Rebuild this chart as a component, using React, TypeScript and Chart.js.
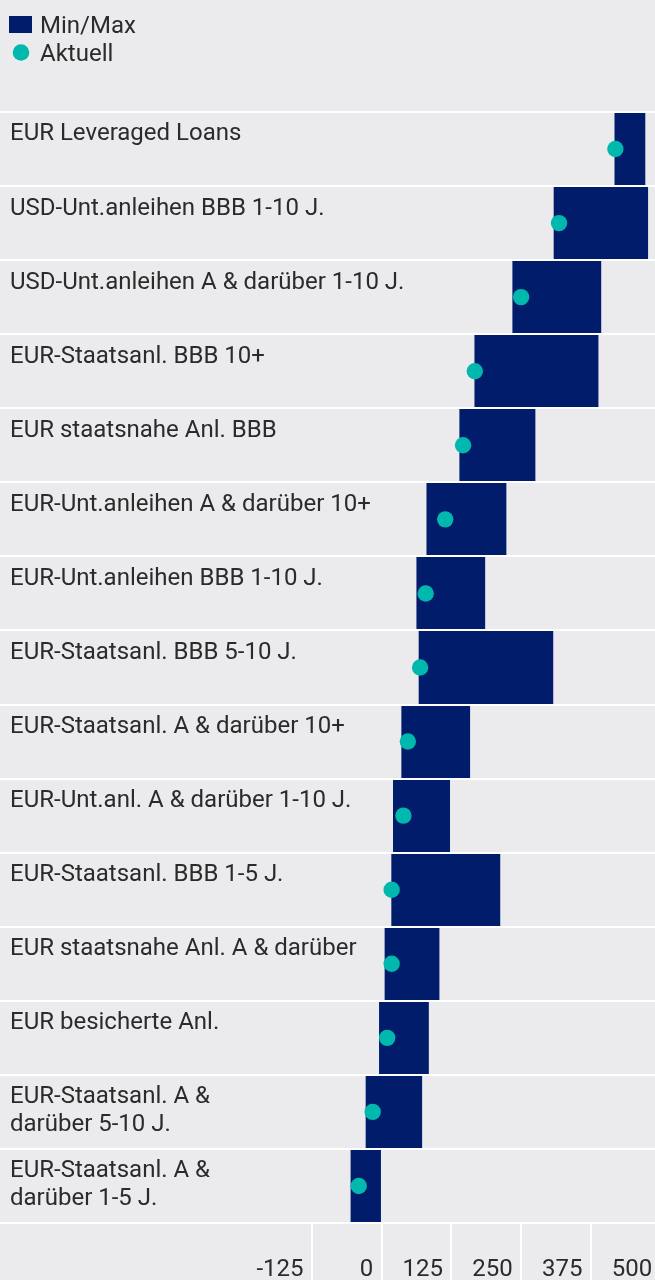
import React, { useEffect, useRef } from 'react';
import { Chart, registerables } from 'chart.js';

Chart.register(...registerables);

const categories = [
  'EUR Leveraged Loans',
  'USD-Unt.anleihen BBB 1-10 J.',
  'USD-Unt.anleihen A & darüber 1-10 J.',
  'EUR-Staatsanl. BBB 10+',
  'EUR staatsnahe Anl. BBB',
  'EUR-Unt.anleihen A & darüber 10+',
  'EUR-Unt.anleihen BBB 1-10 J.',
  'EUR-Staatsanl. BBB 5-10 J.',
  'EUR-Staatsanl. A & darüber 10+',
  'EUR-Unt.anl. A & darüber 1-10 J.',
  'EUR-Staatsanl. BBB 1-5 J.',
  'EUR staatsnahe Anl. A & darüber',
  'EUR besicherte Anl.',
  'EUR-Staatsanl. A &\ndarüber 5-10 J.',
  'EUR-Staatsanl. A &\ndarüber 1-5 J.',
];
const minValues = [418, 309, 235, 167, 140, 81, 63, 67, 36, 21, 18, 6, -4, -28, -55];
const maxValues = [472, 477, 393, 388, 275, 223, 185, 307, 158, 122, 212, 103, 84, 72, 0];
const currentValues = [419, 318, 250, 167, 146, 114, 79, 69, 47, 39, 18, 18, 10, -16, -41];
const tickValues = [-125, 0, 125, 250, 375, 500];
const legendLabels = ['Min/Max', 'Aktuell'];

const NAVY = '#001C6B';
const TEAL = '#00B8AD';
const BG = '#EBEBEE';
const TEXT = '#2B2B2B';
const FONT = 'Roboto, "Noto Sans", sans-serif';

export default function App() {
  const ref = useRef<HTMLCanvasElement>(null);
  useEffect(() => {
    document.body.style.margin = '0';
    const rectImg = document.createElement('canvas');
    rectImg.width = 34;
    rectImg.height = 21;
    const rc = rectImg.getContext('2d')!;
    rc.fillStyle = NAVY;
    rc.fillRect(10, 0, 23, 17);
    const dotImg = document.createElement('canvas');
    dotImg.width = 34;
    dotImg.height = 21;
    const dc = dotImg.getContext('2d')!;
    dc.fillStyle = TEAL;
    dc.beginPath();
    dc.arc(22, 8.5, 8.3, 0, Math.PI * 2);
    dc.fill();

    const chart = new Chart(ref.current!, {
      type: 'bar',
      data: {
        labels: categories,
        datasets: [
          {
            type: 'line',
            label: legendLabels[1],
            data: currentValues,
            showLine: false,
            pointRadius: 8.2,
            pointHoverRadius: 8.2,
            pointBackgroundColor: TEAL,
            pointBorderWidth: 0,
            order: 0,
          } as any,
          {
            type: 'bar',
            label: legendLabels[0],
            data: minValues.map((m, i) => [m, maxValues[i]]),
            backgroundColor: NAVY,
            borderWidth: 0,
            barPercentage: 1,
            categoryPercentage: 1,
            order: 1,
          } as any,
        ],
      },
      options: {
        indexAxis: 'y',
        responsive: false,
        animation: false,
        events: [],
        layout: { autoPadding: false, padding: { top: 10.5, left: 0, right: 0, bottom: 0 } },
        scales: {
          x: {
            type: 'linear',
            position: 'bottom',
            min: -684,
            max: 490,
            afterBuildTicks: (s: any) => {
              s.ticks = tickValues.map((v) => ({ value: v }));
            },
            afterFit: (s: any) => {
              s.height = 57;
              s.paddingLeft = 0;
              s.paddingRight = 0;
            },
            grid: { drawOnChartArea: false, drawTicks: true, tickLength: 57, color: '#FFFFFF', lineWidth: 2 },
            border: { display: false },
            ticks: {
              align: 'end',
              padding: -22,
              autoSkip: false,
              maxRotation: 0,
              minRotation: 0,
              color: TEXT,
              font: { family: FONT, size: 24, lineHeight: 1 },
              callback: (v: any) => String(v) + ' \u200A',
            },
          },
          y: {
            type: 'category',
            position: 'left',
            afterFit: (s: any) => {
              s.width = 0;
            },
            grid: { color: '#FFFFFF', lineWidth: 2, drawTicks: false, z: 1, offset: true },
            border: { display: false },
            ticks: {
              mirror: true,
              padding: 10,
              labelOffset: -0.7,
              color: TEXT,
              font: { family: FONT, size: 24, lineHeight: 27.7 / 24 },
              callback: (_v: any, i: number) => {
                const parts = categories[i].split('\n');
                return parts.length > 1 ? parts : [parts[0], ''];
              },
            },
          },
        },
        plugins: {
          legend: {
            position: 'top',
            align: 'start',
            labels: {
              usePointStyle: true,
              pointStyleWidth: 24,
              padding: 4,
              color: TEXT,
              font: { family: FONT, size: 24 },
              generateLabels: () => [
                {
                  text: legendLabels[0] + ' '.repeat(140),
                  pointStyle: rectImg,
                  fillStyle: NAVY,
                  strokeStyle: NAVY,
                  lineWidth: 0,
                  hidden: false,
                  datasetIndex: 1,
                  fontColor: TEXT,
                } as any,
                {
                  text: legendLabels[1],
                  pointStyle: dotImg,
                  fillStyle: TEAL,
                  strokeStyle: TEAL,
                  lineWidth: 0,
                  hidden: false,
                  datasetIndex: 0,
                  fontColor: TEXT,
                } as any,
              ],
            },
          },
          title: { display: true, text: '', weight: 100, padding: 0, font: { size: 35.5, lineHeight: 1 } } as any,
          tooltip: { enabled: false },
        },
      } as any,
    });
    return () => chart.destroy();
  }, []);
  return (
    <div style={{ width: 655, height: 1280, background: BG }}>
      <canvas ref={ref} width={655} height={1280} style={{ display: 'block' }} />
    </div>
  );
}
